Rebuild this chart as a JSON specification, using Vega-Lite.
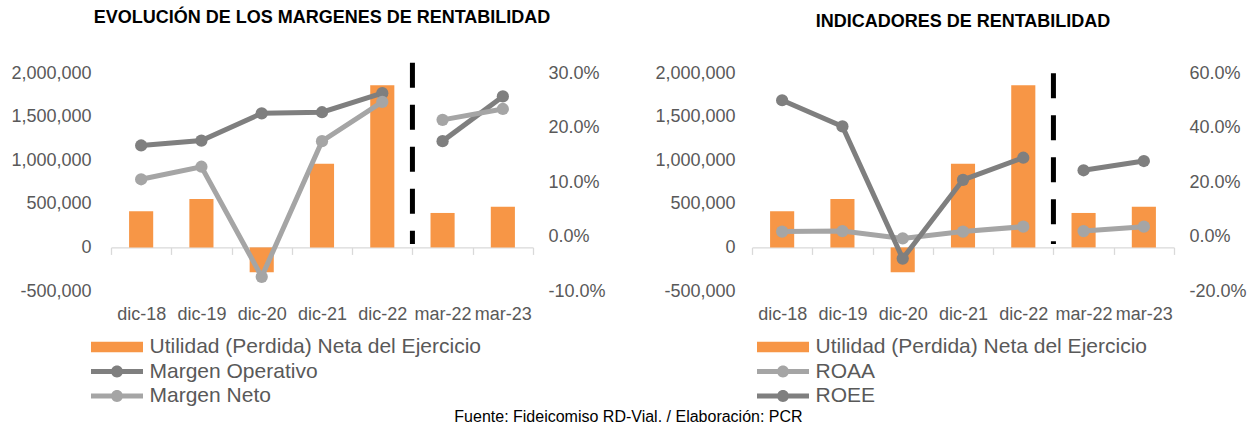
{
  "$schema": "https://vega.github.io/schema/vega-lite/v6.json",
  "padding": {"left": 10, "top": 9, "right": 5, "bottom": 1},
  "config": {
    "font": "Liberation Sans",
    "view": {"stroke": null},
    "locale": {"number": {"decimal": ".", "thousands": ",", "grouping": [3], "currency": ["$", ""], "minus": "-"}},
    "axis": {"labelFont": "Liberation Sans", "labelFontSize": 18, "labelColor": "#595959", "grid": false, "ticks": false, "domain": false, "title": null},
    "legend": {"orient": "none", "direction": "vertical", "title": null, "labelFont": "Liberation Sans", "labelFontSize": 21, "labelColor": "#595959", "labelLimit": 600, "symbolSize": 441, "symbolStrokeWidth": 0, "symbolOpacity": 1, "symbolOffset": 15.5, "labelOffset": 22, "rowPadding": 2.5, "padding": 0}
  },
  "datasets": {
    "utilidad": [
      {"periodo": "dic-18", "serie": "Utilidad (Perdida) Neta del Ejercicio", "valor": 415000},
      {"periodo": "dic-19", "serie": "Utilidad (Perdida) Neta del Ejercicio", "valor": 555000},
      {"periodo": "dic-20", "serie": "Utilidad (Perdida) Neta del Ejercicio", "valor": -285000},
      {"periodo": "dic-21", "serie": "Utilidad (Perdida) Neta del Ejercicio", "valor": 960000},
      {"periodo": "dic-22", "serie": "Utilidad (Perdida) Neta del Ejercicio", "valor": 1860000},
      {"periodo": "mar-22", "serie": "Utilidad (Perdida) Neta del Ejercicio", "valor": 395000},
      {"periodo": "mar-23", "serie": "Utilidad (Perdida) Neta del Ejercicio", "valor": 465000}
    ],
    "separador": [{"corte": "mar-22"}],
    "margenes": [
      {"periodo": "dic-18", "serie": "Margen Operativo", "tramo": "anual", "valor": 0.167},
      {"periodo": "dic-19", "serie": "Margen Operativo", "tramo": "anual", "valor": 0.176},
      {"periodo": "dic-20", "serie": "Margen Operativo", "tramo": "anual", "valor": 0.226},
      {"periodo": "dic-21", "serie": "Margen Operativo", "tramo": "anual", "valor": 0.228},
      {"periodo": "dic-22", "serie": "Margen Operativo", "tramo": "anual", "valor": 0.263},
      {"periodo": "mar-22", "serie": "Margen Operativo", "tramo": "trimestral", "valor": 0.175},
      {"periodo": "mar-23", "serie": "Margen Operativo", "tramo": "trimestral", "valor": 0.257},
      {"periodo": "dic-18", "serie": "Margen Neto", "tramo": "anual", "valor": 0.105},
      {"periodo": "dic-19", "serie": "Margen Neto", "tramo": "anual", "valor": 0.128},
      {"periodo": "dic-20", "serie": "Margen Neto", "tramo": "anual", "valor": -0.074},
      {"periodo": "dic-21", "serie": "Margen Neto", "tramo": "anual", "valor": 0.175},
      {"periodo": "dic-22", "serie": "Margen Neto", "tramo": "anual", "valor": 0.247},
      {"periodo": "mar-22", "serie": "Margen Neto", "tramo": "trimestral", "valor": 0.214},
      {"periodo": "mar-23", "serie": "Margen Neto", "tramo": "trimestral", "valor": 0.234}
    ],
    "indicadores": [
      {"periodo": "dic-18", "serie": "ROAA", "tramo": "anual", "valor": 0.018},
      {"periodo": "dic-19", "serie": "ROAA", "tramo": "anual", "valor": 0.020},
      {"periodo": "dic-20", "serie": "ROAA", "tramo": "anual", "valor": -0.007},
      {"periodo": "dic-21", "serie": "ROAA", "tramo": "anual", "valor": 0.018},
      {"periodo": "dic-22", "serie": "ROAA", "tramo": "anual", "valor": 0.036},
      {"periodo": "mar-22", "serie": "ROAA", "tramo": "trimestral", "valor": 0.020},
      {"periodo": "mar-23", "serie": "ROAA", "tramo": "trimestral", "valor": 0.036},
      {"periodo": "dic-18", "serie": "ROEE", "tramo": "anual", "valor": 0.500},
      {"periodo": "dic-19", "serie": "ROEE", "tramo": "anual", "valor": 0.404},
      {"periodo": "dic-20", "serie": "ROEE", "tramo": "anual", "valor": -0.081},
      {"periodo": "dic-21", "serie": "ROEE", "tramo": "anual", "valor": 0.208},
      {"periodo": "dic-22", "serie": "ROEE", "tramo": "anual", "valor": 0.289},
      {"periodo": "mar-22", "serie": "ROEE", "tramo": "trimestral", "valor": 0.243},
      {"periodo": "mar-23", "serie": "ROEE", "tramo": "trimestral", "valor": 0.277}
    ]
  },
  "title": {"text": "Fuente: Fideicomiso RD-Vial. / Elaboración: PCR", "orient": "bottom", "anchor": "middle", "fontSize": 16, "fontWeight": "normal", "color": "#000000", "font": "Liberation Sans", "offset": 2},
  "spacing": 48,
  "resolve": {"scale": {"color": "independent", "shape": "independent", "x": "independent", "y": "independent"}, "legend": {"color": "independent", "shape": "independent"}},
  "hconcat": [
    {
      "width": 422,
      "height": 218,
      "title": {"text": "EVOLUCIÓN DE LOS MARGENES DE RENTABILIDAD", "fontSize": 18, "fontWeight": "bold", "color": "#000000", "anchor": "middle", "offset": 33, "font": "Liberation Sans"},
      "encoding": {
        "x": {"field": "periodo", "type": "nominal", "sort": ["dic-18", "dic-19", "dic-20", "dic-21", "dic-22", "mar-22", "mar-23"], "scale": {"paddingInner": 0, "paddingOuter": 0},
          "axis": {"orient": "bottom", "offset": -43.6, "domain": true, "domainColor": "#D9D9D9", "domainWidth": 1.3, "ticks": true, "tickColor": "#D9D9D9", "tickWidth": 1.3, "tickSize": 7, "tickBand": "extent", "labelPadding": 51, "labelAngle": 0, "labelFontSize": 18}},
        "color": {"field": "serie", "type": "nominal", "scale": {"domain": ["Utilidad (Perdida) Neta del Ejercicio", "Margen Operativo", "Margen Neto"], "range": ["#F79646", "#7F7F7F", "#A5A5A5"]}, "legend": {"legendX": -20, "legendY": 263.5}}
      },
      "layer": [
        {
          "layer": [
            {
              "data": {"name": "utilidad"},
              "mark": {"type": "bar", "width": {"band": 0.4}},
              "encoding": {
                "y": {"field": "valor", "type": "quantitative", "scale": {"domain": [-500000, 2000000], "nice": false, "zero": false}, "axis": {"orient": "left", "values": [-500000, 0, 500000, 1000000, 1500000, 2000000], "format": ",.0f", "labelPadding": 20}}
              }
            },
            {
              "data": {"name": "separador"},
              "mark": {"type": "rule", "strokeDash": [25, 17], "strokeWidth": 5, "color": "#000000"},
              "encoding": {
                "x": {"field": "corte", "type": "nominal", "bandPosition": 0},
                "y": {"datum": 2118000, "type": "quantitative"},
                "y2": {"datum": 40000},
                "color": {"value": "#000000"}
              }
            }
          ]
        },
        {
          "data": {"name": "margenes"},
          "layer": [
            {
              "mark": {"type": "line", "strokeWidth": 5, "point": {"filled": true, "size": 150, "opacity": 1}},
              "encoding": {
                "y": {"field": "valor", "type": "quantitative", "scale": {"domain": [-0.1, 0.3], "nice": false, "zero": false}, "axis": {"orient": "right", "values": [-0.1, 0, 0.1, 0.2, 0.3], "format": ".1%", "labelPadding": 15}},
                "detail": {"field": "tramo"}
              }
            },
            {
              "mark": {"type": "point", "size": 0, "filled": true, "opacity": 0},
              "encoding": {
                "y": {"field": "valor", "type": "quantitative", "scale": {"domain": [-0.1, 0.3], "nice": false, "zero": false}, "axis": {"orient": "right", "values": [-0.1, 0, 0.1, 0.2, 0.3], "format": ".1%", "labelPadding": 15}},
                "shape": {"field": "serie", "type": "nominal", "scale": {"domain": ["Utilidad (Perdida) Neta del Ejercicio", "Margen Operativo", "Margen Neto"], "range": ["M-2.476,-0.495H2.476V0.495H-2.476Z", "M-2.476,-0.229H2.476V0.229H-2.476Z M-0.571,0A0.571,0.571 0 1,1 0.571,0A0.571,0.571 0 1,1 -0.571,0Z", "M-2.476,-0.229H2.476V0.229H-2.476Z M-0.571,0A0.571,0.571 0 1,1 0.571,0A0.571,0.571 0 1,1 -0.571,0Z"]}, "legend": {"legendX": -20, "legendY": 263.5}}
              }
            }
          ]
        }
      ],
      "resolve": {"scale": {"y": "independent"}}
    },
    {
      "width": 422,
      "height": 218,
      "title": {"text": "INDICADORES DE RENTABILIDAD", "fontSize": 18, "fontWeight": "bold", "color": "#000000", "anchor": "middle", "offset": 33, "font": "Liberation Sans"},
      "encoding": {
        "x": {"field": "periodo", "type": "nominal", "sort": ["dic-18", "dic-19", "dic-20", "dic-21", "dic-22", "mar-22", "mar-23"], "scale": {"paddingInner": 0, "paddingOuter": 0},
          "axis": {"orient": "bottom", "offset": -43.6, "domain": true, "domainColor": "#D9D9D9", "domainWidth": 1.3, "ticks": true, "tickColor": "#D9D9D9", "tickWidth": 1.3, "tickSize": 7, "tickBand": "extent", "labelPadding": 51, "labelAngle": 0, "labelFontSize": 18}},
        "color": {"field": "serie", "type": "nominal", "scale": {"domain": ["Utilidad (Perdida) Neta del Ejercicio", "ROAA", "ROEE"], "range": ["#F79646", "#A5A5A5", "#7F7F7F"]}, "legend": {"legendX": 5, "legendY": 263.5}}
      },
      "layer": [
        {
          "layer": [
            {
              "data": {"name": "utilidad"},
              "mark": {"type": "bar", "width": {"band": 0.4}},
              "encoding": {
                "y": {"field": "valor", "type": "quantitative", "scale": {"domain": [-500000, 2000000], "nice": false, "zero": false}, "axis": {"orient": "left", "values": [-500000, 0, 500000, 1000000, 1500000, 2000000], "format": ",.0f", "labelPadding": 17}}
              }
            },
            {
              "data": {"name": "separador"},
              "mark": {"type": "rule", "strokeDash": [25, 17], "strokeWidth": 5, "color": "#000000"},
              "encoding": {
                "x": {"field": "corte", "type": "nominal", "bandPosition": 0},
                "y": {"datum": 1997000, "type": "quantitative"},
                "y2": {"datum": 40000},
                "color": {"value": "#000000"}
              }
            }
          ]
        },
        {
          "data": {"name": "indicadores"},
          "layer": [
            {
              "mark": {"type": "line", "strokeWidth": 5, "point": {"filled": true, "size": 150, "opacity": 1}},
              "encoding": {
                "y": {"field": "valor", "type": "quantitative", "scale": {"domain": [-0.2, 0.6], "nice": false, "zero": false}, "axis": {"orient": "right", "values": [-0.2, 0, 0.2, 0.4, 0.6], "format": ".1%", "labelPadding": 15}},
                "detail": {"field": "tramo"}
              }
            },
            {
              "mark": {"type": "point", "size": 0, "filled": true, "opacity": 0},
              "encoding": {
                "y": {"field": "valor", "type": "quantitative", "scale": {"domain": [-0.2, 0.6], "nice": false, "zero": false}, "axis": {"orient": "right", "values": [-0.2, 0, 0.2, 0.4, 0.6], "format": ".1%", "labelPadding": 15}},
                "shape": {"field": "serie", "type": "nominal", "scale": {"domain": ["Utilidad (Perdida) Neta del Ejercicio", "ROAA", "ROEE"], "range": ["M-2.476,-0.495H2.476V0.495H-2.476Z", "M-2.476,-0.229H2.476V0.229H-2.476Z M-0.571,0A0.571,0.571 0 1,1 0.571,0A0.571,0.571 0 1,1 -0.571,0Z", "M-2.476,-0.229H2.476V0.229H-2.476Z M-0.571,0A0.571,0.571 0 1,1 0.571,0A0.571,0.571 0 1,1 -0.571,0Z"]}, "legend": {"legendX": 5, "legendY": 263.5}}
              }
            }
          ]
        }
      ],
      "resolve": {"scale": {"y": "independent"}}
    }
  ]
}
